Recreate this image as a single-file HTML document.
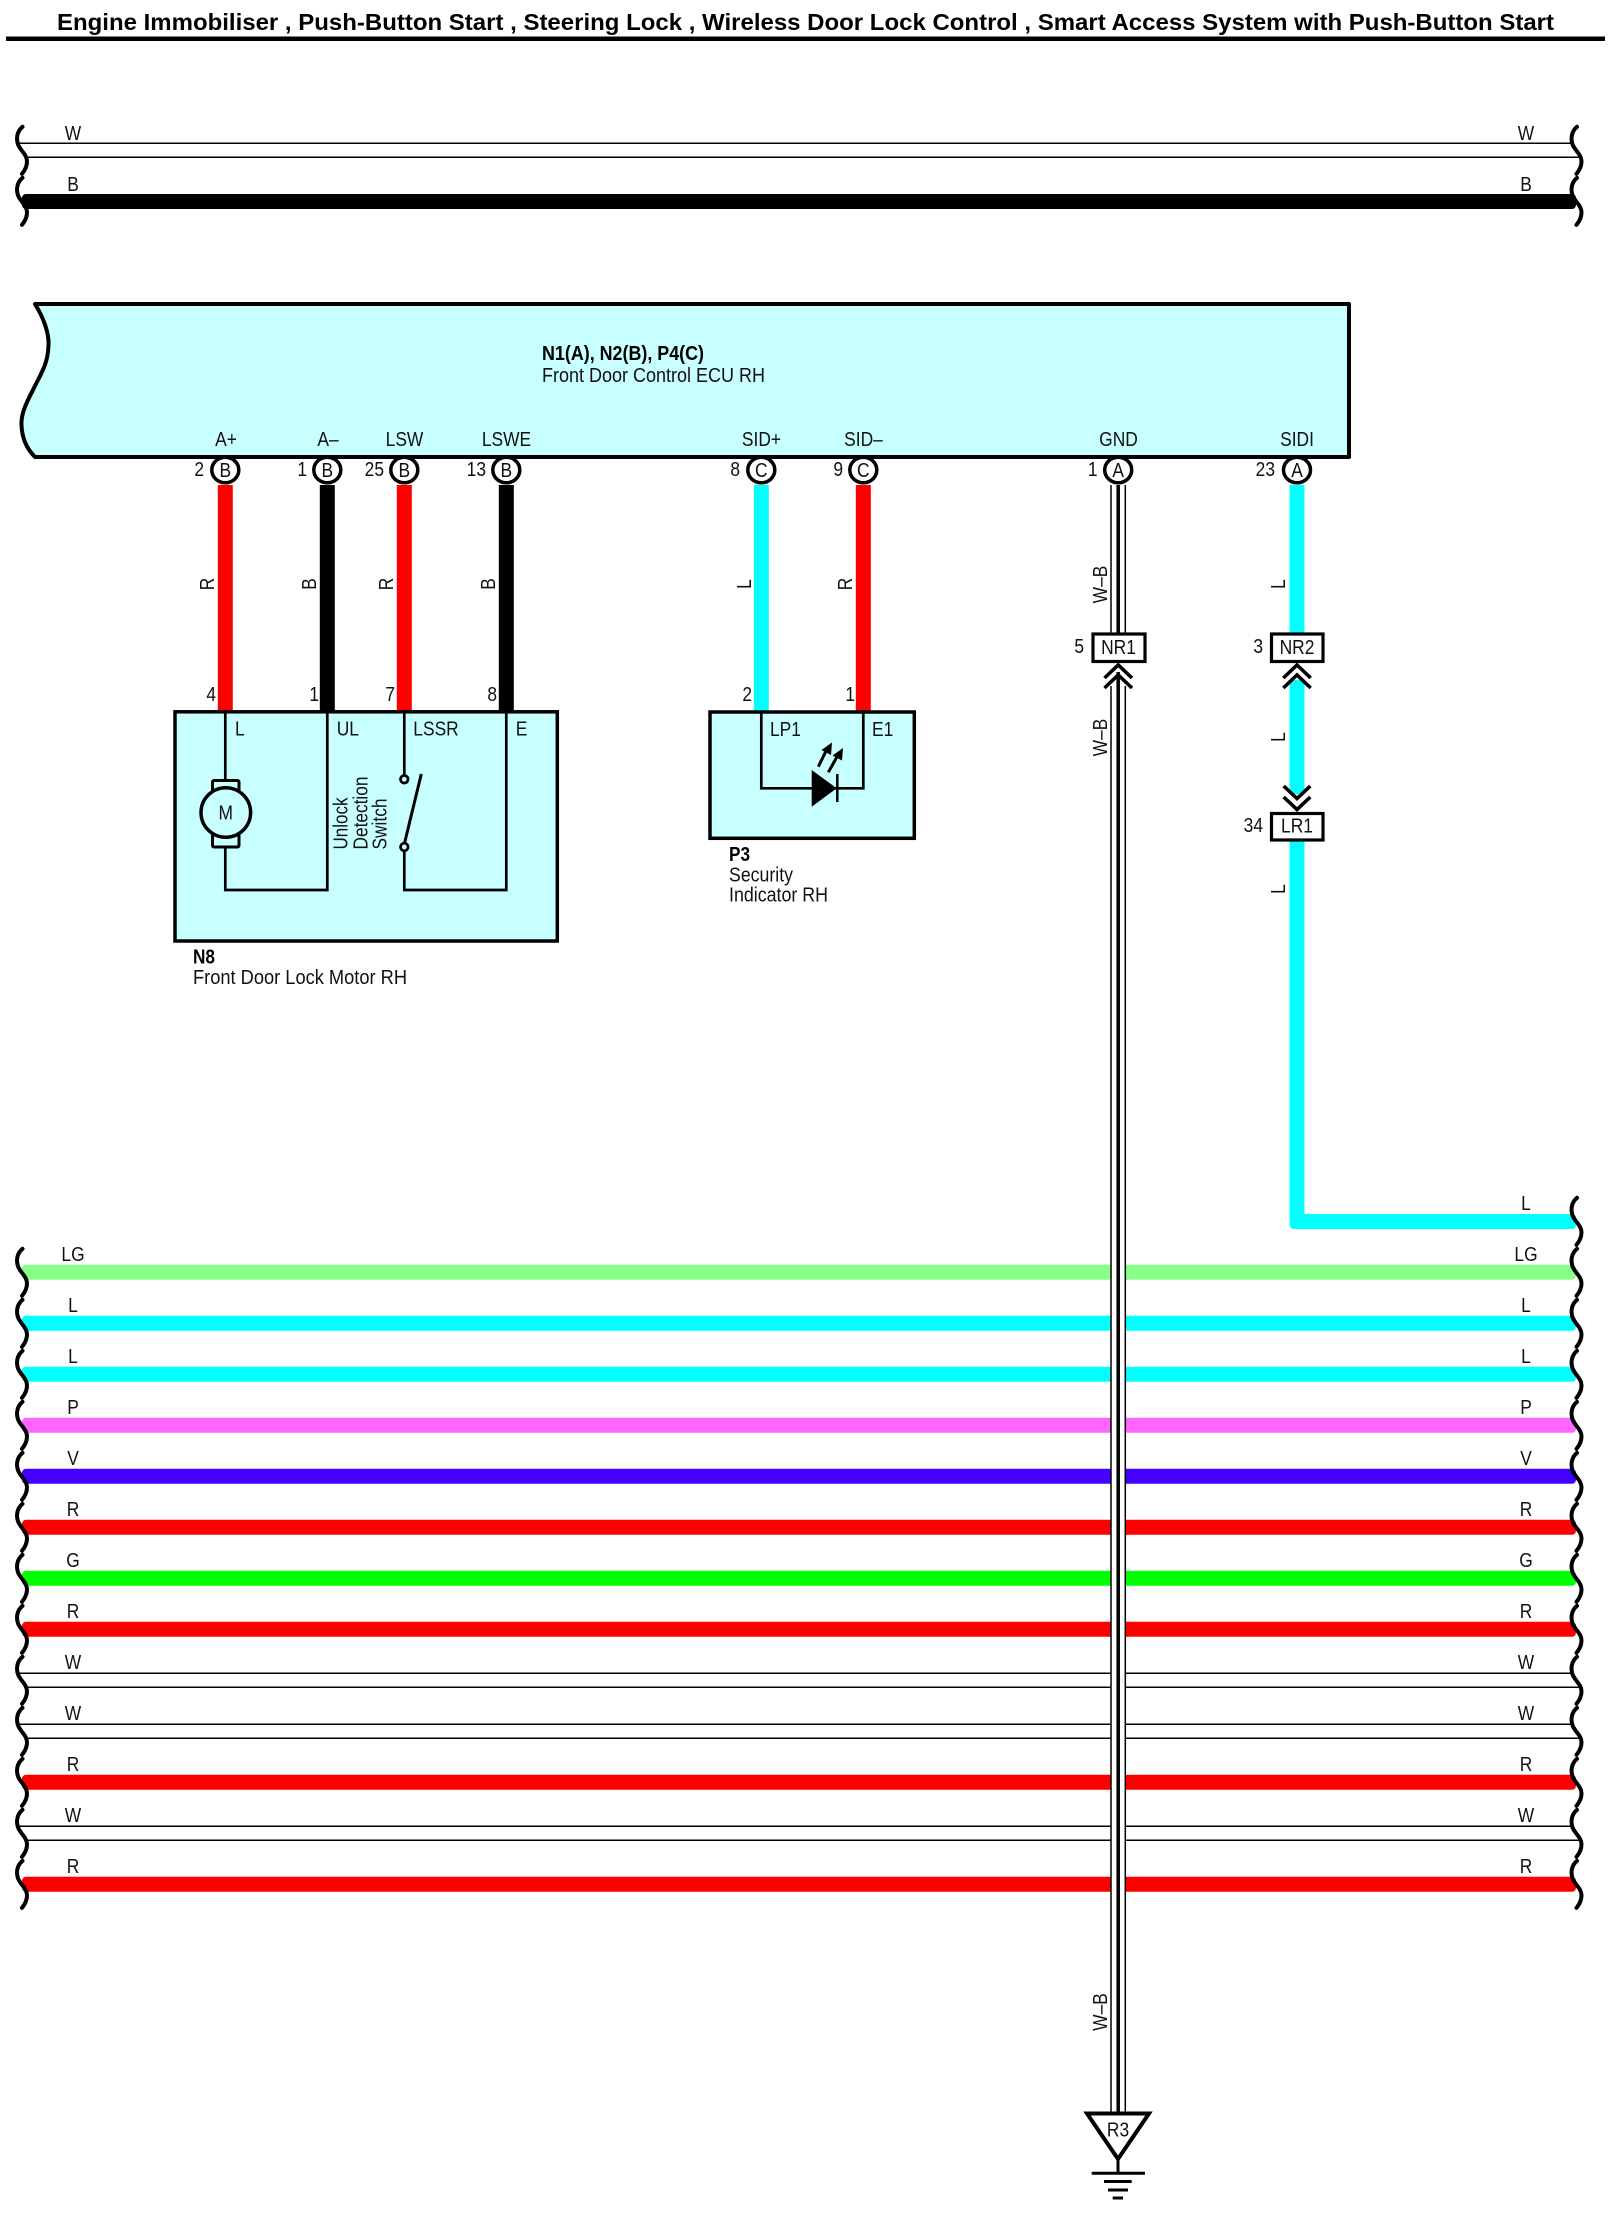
<!DOCTYPE html>
<html><head><meta charset="utf-8"><title>Wiring diagram</title>
<style>
html,body{margin:0;padding:0;background:#fff}
svg{display:block}
text{font-family:"Liberation Sans",sans-serif;font-size:20px;fill:#111}
.m{text-anchor:middle}.e{text-anchor:end}.b{font-weight:bold;fill:#000}
.sq{fill:none;stroke:#000;stroke-width:4;stroke-linecap:round}
.k{stroke:#000;fill:none}
</style></head><body>
<svg xmlns="http://www.w3.org/2000/svg" width="1613" height="2213" viewBox="0 0 1613 2213">
<defs>
<path id="sq" class="sq" d="M22.5,-23.5 C17,-19 16,-12 18,-6 C20,0 27,4 27,11 C27,16 25,20 22,23.5"/>
</defs>
<rect width="1613" height="2213" fill="#fff"/>

<!-- Title -->
<text class="b" x="57" y="30" style="font-size:23px" textLength="1497" lengthAdjust="spacingAndGlyphs">Engine Immobiliser , Push-Button Start , Steering Lock , Wireless Door Lock Control , Smart Access System with Push-Button Start</text>
<rect x="6" y="36.5" width="1599" height="4.5" fill="#000"/>

<!-- Top buses -->
<g stroke="#000" stroke-width="1.5">
<line x1="19" y1="143.3" x2="1572" y2="143.3"/>
<line x1="26" y1="157.3" x2="1579" y2="157.3"/>
</g>
<rect x="22" y="194" width="1554" height="15" rx="4" fill="#000"/>
<use href="#sq" x="0" y="150.3"/><use href="#sq" x="0" y="201.3"/>
<use href="#sq" x="1554.5" y="150.3"/><use href="#sq" x="1554.5" y="201.3"/>
<text class="m" transform="translate(73 140) scale(.87 1)">W</text>
<text class="m" transform="translate(73 191) scale(.87 1)">B</text>
<text class="m" transform="translate(1526 140) scale(.87 1)">W</text>
<text class="m" transform="translate(1526 191) scale(.87 1)">B</text>

<!-- ECU -->
<path d="M35,304 L1349,304 L1349,457 L35,457 C28,450 22,440 21.5,425 C21,415 25,405 33,390 C40,375 48,365 48.5,345 C49,335 45,320 35,304 Z" fill="#c8ffff" stroke="#000" stroke-width="4" stroke-linejoin="round"/>
<text class="b" x="542" y="360" textLength="162" lengthAdjust="spacingAndGlyphs">N1(A), N2(B), P4(C)</text>
<text x="542" y="382" textLength="223" lengthAdjust="spacingAndGlyphs">Front Door Control ECU RH</text>
<text class="m" transform="translate(226 446) scale(.87 1)">A+</text>
<text class="m" transform="translate(328 446) scale(.87 1)">A–</text>
<text class="m" transform="translate(404.5 446) scale(.87 1)">LSW</text>
<text class="m" transform="translate(506.5 446) scale(.87 1)">LSWE</text>
<text class="m" transform="translate(761.5 446) scale(.87 1)">SID+</text>
<text class="m" transform="translate(863.5 446) scale(.87 1)">SID–</text>
<text class="m" transform="translate(1118.5 446) scale(.87 1)">GND</text>
<text class="m" transform="translate(1297 446) scale(.87 1)">SIDI</text>

<!-- Vertical wires -->
<rect x="217.8" y="485" width="15" height="228" fill="#f00"/>
<rect x="319.8" y="485" width="15" height="228" fill="#000"/>
<rect x="396.8" y="485" width="15" height="228" fill="#f00"/>
<rect x="498.8" y="485" width="15" height="228" fill="#000"/>
<rect x="753.8" y="485" width="15" height="228" fill="#0ff"/>
<rect x="855.8" y="485" width="15" height="228" fill="#f00"/>

<!-- Horizontal wires -->
<rect x="22" y="1264.8" width="1554" height="15" rx="4" fill="#88ff88"/>
<rect x="22" y="1315.8" width="1554" height="15" rx="4" fill="#0ff"/>
<rect x="22" y="1366.8" width="1554" height="15" rx="4" fill="#0ff"/>
<rect x="22" y="1417.8" width="1554" height="15" rx="4" fill="#ff66ff"/>
<rect x="22" y="1468.8" width="1554" height="15" rx="4" fill="#4400ff"/>
<rect x="22" y="1519.8" width="1554" height="15" rx="4" fill="#f00"/>
<rect x="22" y="1570.8" width="1554" height="15" rx="4" fill="#0f0"/>
<rect x="22" y="1621.8" width="1554" height="15" rx="4" fill="#f00"/>
<g stroke="#000" stroke-width="1.5">
<line x1="19" y1="1673.3" x2="1572" y2="1673.3"/><line x1="26" y1="1687.3" x2="1579" y2="1687.3"/>
<line x1="19" y1="1724.3" x2="1572" y2="1724.3"/><line x1="26" y1="1738.3" x2="1579" y2="1738.3"/>
<line x1="19" y1="1826.3" x2="1572" y2="1826.3"/><line x1="26" y1="1840.3" x2="1579" y2="1840.3"/>
</g>
<rect x="22" y="1774.8" width="1554" height="15" rx="4" fill="#f00"/>
<rect x="22" y="1876.8" width="1554" height="15" rx="4" fill="#f00"/>

<!-- SIDI wire -->
<rect x="1289.5" y="485" width="15" height="148" fill="#0ff"/>
<rect x="1289.5" y="680" width="15" height="114" fill="#0ff"/>
<path d="M1289.5,840 L1289.5,1224 Q1289.5,1229 1294.5,1229 L1572,1229 Q1576,1229 1576,1225 L1576,1218 Q1576,1214 1572,1214 L1304.5,1214 L1304.5,840 Z" fill="#0ff"/>

<!-- GND wire -->
<rect x="1110.7" y="485" width="14.8" height="1628" fill="#fff"/>
<g stroke="#000">
<line x1="1111" y1="485" x2="1111" y2="634" stroke-width="1.5"/>
<line x1="1125.3" y1="485" x2="1125.3" y2="634" stroke-width="1.5"/>
<line x1="1118.2" y1="485" x2="1118.2" y2="634" stroke-width="3.5"/>
<line x1="1111" y1="686" x2="1111" y2="2113" stroke-width="1.5"/>
<line x1="1125.3" y1="686" x2="1125.3" y2="2113" stroke-width="1.5"/>
<line x1="1118.2" y1="672" x2="1118.2" y2="2113" stroke-width="3.5"/>
</g>

<!-- Bottom squiggles -->
<use href="#sq" y="1272.3"/><use href="#sq" y="1323.3"/><use href="#sq" y="1374.3"/><use href="#sq" y="1425.3"/><use href="#sq" y="1476.3"/><use href="#sq" y="1527.3"/><use href="#sq" y="1578.3"/><use href="#sq" y="1629.3"/><use href="#sq" y="1680.3"/><use href="#sq" y="1731.3"/><use href="#sq" y="1782.3"/><use href="#sq" y="1833.3"/><use href="#sq" y="1884.3"/>
<use href="#sq" x="1554.5" y="1221.3"/><use href="#sq" x="1554.5" y="1272.3"/><use href="#sq" x="1554.5" y="1323.3"/><use href="#sq" x="1554.5" y="1374.3"/><use href="#sq" x="1554.5" y="1425.3"/><use href="#sq" x="1554.5" y="1476.3"/><use href="#sq" x="1554.5" y="1527.3"/><use href="#sq" x="1554.5" y="1578.3"/><use href="#sq" x="1554.5" y="1629.3"/><use href="#sq" x="1554.5" y="1680.3"/><use href="#sq" x="1554.5" y="1731.3"/><use href="#sq" x="1554.5" y="1782.3"/><use href="#sq" x="1554.5" y="1833.3"/><use href="#sq" x="1554.5" y="1884.3"/>

<!-- Left bus labels -->
<text class="m" transform="translate(73 1261) scale(.87 1)">LG</text>
<text class="m" transform="translate(73 1312) scale(.87 1)">L</text>
<text class="m" transform="translate(73 1363) scale(.87 1)">L</text>
<text class="m" transform="translate(73 1414) scale(.87 1)">P</text>
<text class="m" transform="translate(73 1465) scale(.87 1)">V</text>
<text class="m" transform="translate(73 1516) scale(.87 1)">R</text>
<text class="m" transform="translate(73 1567) scale(.87 1)">G</text>
<text class="m" transform="translate(73 1618) scale(.87 1)">R</text>
<text class="m" transform="translate(73 1669) scale(.87 1)">W</text>
<text class="m" transform="translate(73 1720) scale(.87 1)">W</text>
<text class="m" transform="translate(73 1771) scale(.87 1)">R</text>
<text class="m" transform="translate(73 1822) scale(.87 1)">W</text>
<text class="m" transform="translate(73 1873) scale(.87 1)">R</text>
<!-- Right bus labels -->
<text class="m" transform="translate(1526 1210) scale(.87 1)">L</text>
<text class="m" transform="translate(1526 1261) scale(.87 1)">LG</text>
<text class="m" transform="translate(1526 1312) scale(.87 1)">L</text>
<text class="m" transform="translate(1526 1363) scale(.87 1)">L</text>
<text class="m" transform="translate(1526 1414) scale(.87 1)">P</text>
<text class="m" transform="translate(1526 1465) scale(.87 1)">V</text>
<text class="m" transform="translate(1526 1516) scale(.87 1)">R</text>
<text class="m" transform="translate(1526 1567) scale(.87 1)">G</text>
<text class="m" transform="translate(1526 1618) scale(.87 1)">R</text>
<text class="m" transform="translate(1526 1669) scale(.87 1)">W</text>
<text class="m" transform="translate(1526 1720) scale(.87 1)">W</text>
<text class="m" transform="translate(1526 1771) scale(.87 1)">R</text>
<text class="m" transform="translate(1526 1822) scale(.87 1)">W</text>
<text class="m" transform="translate(1526 1873) scale(.87 1)">R</text>

<!-- Pin circles -->
<g fill="#fff" stroke="#000" stroke-width="3.5">
<ellipse cx="225.3" cy="470" rx="13.5" ry="12.8"/>
<ellipse cx="327.3" cy="470" rx="13.5" ry="12.8"/>
<ellipse cx="404.3" cy="470" rx="13.5" ry="12.8"/>
<ellipse cx="506.3" cy="470" rx="13.5" ry="12.8"/>
<ellipse cx="761.3" cy="470" rx="13.5" ry="12.8"/>
<ellipse cx="863.3" cy="470" rx="13.5" ry="12.8"/>
<ellipse cx="1118.2" cy="470" rx="13.5" ry="12.8"/>
<ellipse cx="1297" cy="470" rx="13.5" ry="12.8"/>
</g>
<text class="m" transform="translate(225.3 477) scale(.87 1)">B</text>
<text class="m" transform="translate(327.3 477) scale(.87 1)">B</text>
<text class="m" transform="translate(404.3 477) scale(.87 1)">B</text>
<text class="m" transform="translate(506.3 477) scale(.87 1)">B</text>
<text class="m" transform="translate(761.3 477) scale(.87 1)">C</text>
<text class="m" transform="translate(863.3 477) scale(.87 1)">C</text>
<text class="m" transform="translate(1118.2 477) scale(.87 1)">A</text>
<text class="m" transform="translate(1297 477) scale(.87 1)">A</text>
<!-- Pin numbers -->
<text class="e" transform="translate(204 476) scale(.87 1)">2</text>
<text class="e" transform="translate(307 476) scale(.87 1)">1</text>
<text class="e" transform="translate(384 476) scale(.87 1)">25</text>
<text class="e" transform="translate(486 476) scale(.87 1)">13</text>
<text class="e" transform="translate(740 476) scale(.87 1)">8</text>
<text class="e" transform="translate(843 476) scale(.87 1)">9</text>
<text class="e" transform="translate(1097.5 476) scale(.87 1)">1</text>
<text class="e" transform="translate(1275 476) scale(.87 1)">23</text>

<!-- Wire colour labels (rotated) -->
<text class="m" transform="translate(214 584) rotate(-90) scale(.87 1)">R</text>
<text class="m" transform="translate(316 584) rotate(-90) scale(.87 1)">B</text>
<text class="m" transform="translate(393 584) rotate(-90) scale(.87 1)">R</text>
<text class="m" transform="translate(495 584) rotate(-90) scale(.87 1)">B</text>
<text class="m" transform="translate(751 584) rotate(-90) scale(.87 1)">L</text>
<text class="m" transform="translate(852 584) rotate(-90) scale(.87 1)">R</text>
<text class="m" transform="translate(1285 584) rotate(-90) scale(.87 1)">L</text>
<text class="m" transform="translate(1285 737) rotate(-90) scale(.87 1)">L</text>
<text class="m" transform="translate(1285 889) rotate(-90) scale(.87 1)">L</text>
<text class="m" transform="translate(1107 584.5) rotate(-90) scale(.87 1)">W–B</text>
<text class="m" transform="translate(1107 737.5) rotate(-90) scale(.87 1)">W–B</text>
<text class="m" transform="translate(1107 2012) rotate(-90) scale(.87 1)">W–B</text>

<!-- Door lock motor box -->
<rect x="175" y="711.8" width="382.3" height="229.2" fill="#c8ffff" stroke="#000" stroke-width="3.5"/>
<text class="e" transform="translate(216 701) scale(.87 1)">4</text>
<text class="e" transform="translate(319 701) scale(.87 1)">1</text>
<text class="e" transform="translate(395 701) scale(.87 1)">7</text>
<text class="e" transform="translate(497 701) scale(.87 1)">8</text>
<path class="k" stroke-width="2.7" d="M225.3,712 V780 M225.3,848 V890 H327.3 V712 M404.3,712 V775 M404.3,851 V890 H506.3 V712"/>
<rect x="212.5" y="780.5" width="26.5" height="12" rx="1.5" class="k" stroke-width="3"/>
<rect x="212.5" y="834" width="26.5" height="13" rx="1.5" class="k" stroke-width="3"/>
<circle cx="225.8" cy="812.5" r="24.8" fill="#c8ffff" stroke="#000" stroke-width="3.5"/>
<text class="m" transform="translate(225.7 819.5) scale(.87 1)">M</text>
<circle cx="404.3" cy="779.3" r="3.8" fill="#c8ffff" stroke="#000" stroke-width="2.7"/>
<circle cx="404.3" cy="847" r="3.8" fill="#c8ffff" stroke="#000" stroke-width="2.7"/>
<line x1="404.5" y1="843.3" x2="421.3" y2="774" class="k" stroke-width="3"/>
<text transform="translate(235 735.7) scale(.87 1)">L</text>
<text transform="translate(336.7 735.7) scale(.87 1)">UL</text>
<text transform="translate(413.3 735.7) scale(.87 1)">LSSR</text>
<text transform="translate(515.7 735.7) scale(.87 1)">E</text>
<text transform="translate(347.7 849.5) rotate(-90)" textLength="52" lengthAdjust="spacingAndGlyphs">Unlock</text>
<text transform="translate(367.3 849.5) rotate(-90)" textLength="73" lengthAdjust="spacingAndGlyphs">Detection</text>
<text transform="translate(386.7 849.5) rotate(-90)" textLength="51" lengthAdjust="spacingAndGlyphs">Switch</text>
<text class="b" x="193" y="963.6" textLength="22" lengthAdjust="spacingAndGlyphs">N8</text>
<text x="193" y="984" textLength="214" lengthAdjust="spacingAndGlyphs">Front Door Lock Motor RH</text>

<!-- Security indicator box -->
<rect x="710" y="712" width="204.3" height="126.3" fill="#c8ffff" stroke="#000" stroke-width="3.5"/>
<text class="e" transform="translate(752 701) scale(.87 1)">2</text>
<text class="e" transform="translate(855 701) scale(.87 1)">1</text>
<path class="k" stroke-width="2.7" d="M761.3,712 V788.3 H863.3 V712"/>
<path d="M811.7,770 L811.7,806.7 L836.7,788.3 Z" fill="#000"/>
<line x1="837.3" y1="774" x2="837.3" y2="802" stroke="#000" stroke-width="2.5"/>
<line x1="818.3" y1="766.7" x2="827" y2="749" stroke="#000" stroke-width="3"/>
<path d="M832,742.5 L821.5,750 L831,755 Z" fill="#000"/>
<line x1="828.3" y1="772.3" x2="838" y2="755" stroke="#000" stroke-width="3"/>
<path d="M843,748 L832.5,755.5 L842,760.5 Z" fill="#000"/>
<text transform="translate(770 736) scale(.87 1)">LP1</text>
<text transform="translate(872 736) scale(.87 1)">E1</text>
<text class="b" x="729" y="861" textLength="21" lengthAdjust="spacingAndGlyphs">P3</text>
<text x="729" y="881.7" textLength="64" lengthAdjust="spacingAndGlyphs">Security</text>
<text x="729" y="901.7" textLength="99" lengthAdjust="spacingAndGlyphs">Indicator RH</text>

<!-- Junction connectors -->
<g fill="#fff" stroke="#000" stroke-width="3.2">
<rect x="1093" y="634" width="52" height="27.5"/>
<rect x="1271.5" y="634" width="51.5" height="27.5"/>
<rect x="1271.5" y="813.5" width="51.5" height="26.5"/>
</g>
<text class="m" transform="translate(1118.5 654) scale(.87 1)">NR1</text>
<text class="m" transform="translate(1297 654) scale(.87 1)">NR2</text>
<text class="m" transform="translate(1297 832.5) scale(.87 1)">LR1</text>
<text class="e" transform="translate(1084 653) scale(.87 1)">5</text>
<text class="e" transform="translate(1263 653) scale(.87 1)">3</text>
<text class="e" transform="translate(1263 832) scale(.87 1)">34</text>
<!-- Chevrons -->
<g class="k" stroke-width="3.6" fill="none">
<path d="M1104.5,678 L1118.2,665 L1132,678 M1104.5,688 L1118.2,675 L1132,688"/>
<path d="M1283.3,678 L1297,665 L1310.7,678 M1283.3,688 L1297,675 L1310.7,688"/>
<path d="M1283.7,786 L1297,798.5 L1310.3,786 M1283.7,797 L1297,809.5 L1310.3,797"/>
</g>

<!-- Ground -->
<path d="M1087,2113.5 L1149,2113.5 L1118,2159 Z" fill="#fff" stroke="#000" stroke-width="4" stroke-linejoin="miter"/>
<text class="m" transform="translate(1118 2136.7) scale(.87 1)">R3</text>
<g stroke="#000" stroke-width="3">
<line x1="1118" y1="2158" x2="1118" y2="2173"/>
<line x1="1091.7" y1="2173.3" x2="1145" y2="2173.3"/>
<line x1="1104" y1="2181.5" x2="1131.7" y2="2181.5"/>
<line x1="1108" y1="2190" x2="1128" y2="2190"/>
<line x1="1112.7" y1="2198" x2="1123" y2="2198"/>
</g>
</svg>
</body></html>
